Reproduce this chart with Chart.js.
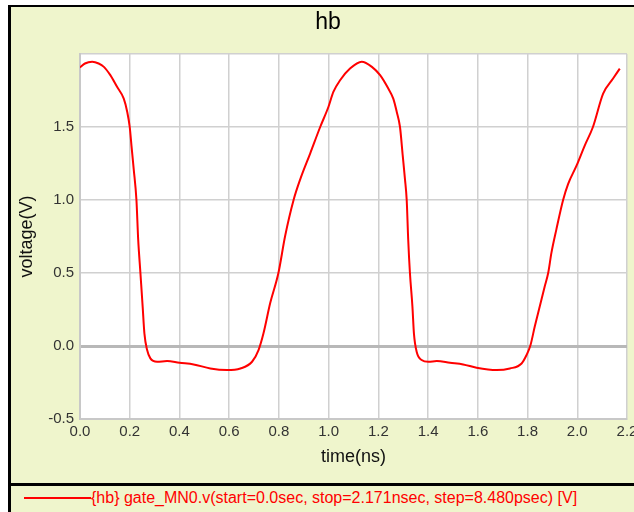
<!DOCTYPE html>
<html>
<head>
<meta charset="utf-8">
<script src="https://cdn.jsdelivr.net/npm/chart.js@4.4.1/dist/chart.umd.min.js"></script>
<style>
  html, body { margin: 0; padding: 0; background: #ffffff; }
  body { width: 634px; height: 512px; position: relative; overflow: hidden; font-family: "Liberation Sans", Arial, sans-serif; }
  #frame { position: absolute; left: 8px; top: 5px; width: 626px; height: 507px; background: #eff5cc; border-left: 3px solid #000; border-top: 2px solid #000; box-sizing: border-box; }
  #sep { position: absolute; left: 8px; top: 483px; width: 626px; height: 3px; background: #000; }
  #wrap { position: absolute; left: 0; top: 0; width: 634px; height: 483px; }
  #legend { position: absolute; left: 24px; top: 488px; height: 20px; display: flex; align-items: center; color: #ff0000; font-size: 16px; white-space: nowrap; }
  #legend .ln { width: 67px; height: 2px; background: #ff0000; }
</style>
</head>
<body>
<div id="frame"></div>
<div id="sep"></div>
<div id="wrap"><canvas id="c" width="634" height="483"></canvas></div>
<div id="legend"><span class="ln"></span><span id="legtext"></span></div>
<script>
const chartTitle = "hb";
const xAxisTitle = "time(ns)";
const yAxisTitle = "voltage(V)";
const legendLabel = "{hb} gate_MN0.v(start=0.0sec, stop=2.171nsec, step=8.480psec) [V]";

const timeNs = [0, 0.02, 0.049, 0.075, 0.096, 0.122, 0.149, 0.176, 0.19, 0.2,
  0.207, 0.216, 0.227, 0.234, 0.243, 0.252, 0.259, 0.27, 0.283, 0.31,
  0.35, 0.4, 0.457, 0.524, 0.591, 0.645, 0.692, 0.718, 0.738, 0.765,
  0.798, 0.825, 0.859, 0.886, 0.926, 0.966, 0.999, 1.019, 1.046, 1.086,
  1.133, 1.174, 1.207, 1.24, 1.26, 1.274, 1.287, 1.298, 1.307, 1.314,
  1.32, 1.327, 1.337, 1.343, 1.354, 1.374, 1.401, 1.435, 1.488, 1.541,
  1.595, 1.676, 1.729, 1.776, 1.796, 1.812, 1.829, 1.849, 1.869, 1.883,
  1.896, 1.916, 1.943, 1.963, 1.997, 2.03, 2.063, 2.104, 2.144, 2.171];
const voltage = [1.908, 1.935, 1.947, 1.935, 1.912, 1.855, 1.775, 1.694, 1.603, 1.5,
  1.373, 1.212, 1.0, 0.73, 0.5, 0.27, 0.087, -0.028, -0.085, -0.108,
  -0.103, -0.115, -0.126, -0.154, -0.165, -0.154, -0.108, -0.028, 0.087, 0.294,
  0.5, 0.753, 1.0, 1.143, 1.32, 1.5, 1.637, 1.74, 1.82, 1.9,
  1.947, 1.912, 1.855, 1.763, 1.694, 1.603, 1.5, 1.304, 1.143, 1.0,
  0.73, 0.5, 0.27, 0.087, -0.039, -0.096, -0.108, -0.103, -0.115, -0.126,
  -0.149, -0.165, -0.154, -0.12, -0.062, 0.007, 0.133, 0.27, 0.408, 0.5,
  0.638, 0.799, 1.0, 1.109, 1.235, 1.373, 1.5, 1.729, 1.832, 1.90];

const xMin = 0, xMax = 2.2, xStep = 0.2;
const yMin = -0.5, yMax = 2.0, yStep = 0.5;

document.getElementById('legtext').textContent = legendLabel;

const points = timeNs.map((t, i) => ({ x: t, y: voltage[i] }));

const plotBg = {
  id: 'plotBg',
  beforeDraw(chart) {
    const { ctx, chartArea: a } = chart;
    ctx.save();
    ctx.fillStyle = '#ffffff';
    ctx.fillRect(a.left, a.top, a.right - a.left, a.bottom - a.top);
    ctx.restore();
  }
};

const FAM = '"Liberation Sans", Arial, sans-serif';
const tickFont = { family: FAM, size: 15 };

new Chart(document.getElementById('c'), {
  type: 'line',
  data: {
    datasets: [{
      label: legendLabel,
      data: points,
      borderColor: '#ff0000',
      borderWidth: 2,
      pointRadius: 0,
      cubicInterpolationMode: 'monotone',
      fill: false
    }]
  },
  options: {
    responsive: false,
    animation: false,
    layout: { padding: { left: 29, right: 7, top: 0, bottom: 0 } },
    plugins: {
      legend: { display: false },
      tooltip: { enabled: false },
      title: {
        display: true,
        text: chartTitle,
        color: '#000000',
        font: { family: FAM, size: 23, weight: 'normal', lineHeight: 1.2 },
        padding: { top: 9, bottom: 17.4 }
      }
    },
    scales: {
      x: {
        type: 'linear',
        min: xMin, max: xMax,
        afterFit(s) { s.height = 64; s.paddingLeft = 0; s.paddingRight = 0; },
        ticks: {
          stepSize: xStep,
          color: '#333333',
          font: tickFont,
          padding: 4,
          maxRotation: 0,
          autoSkip: false,
          callback: v => Number(v).toFixed(1)
        },
        grid: { color: '#d0d0d0', lineWidth: 1.5, drawTicks: false },
        border: { color: '#c8c8c8', width: 2 },
        title: { display: true, text: xAxisTitle, color: '#111111',
          font: { family: FAM, size: 18, lineHeight: 1.2 },
          padding: { top: 0, bottom: 15 } }
      },
      y: {
        type: 'linear',
        min: yMin, max: yMax,
        afterFit(s) { s.width = 51; s.paddingTop = 0; s.paddingBottom = 0; },
        ticks: {
          stepSize: yStep,
          color: '#333333',
          font: tickFont,
          padding: 6,
          callback: v => (Math.abs(v - yMax) < 1e-9 ? '' : Number(v).toFixed(1))
        },
        grid: {
          color: ctx => (ctx.tick && Math.abs(ctx.tick.value) < 1e-9 ? '#b8b8b8' : '#d0d0d0'),
          lineWidth: ctx => (ctx.tick && Math.abs(ctx.tick.value) < 1e-9 ? 3 : 1.5),
          drawTicks: false
        },
        border: { color: '#c8c8c8', width: 2 },
        title: { display: true, text: yAxisTitle, color: '#111111',
          font: { family: FAM, size: 18, lineHeight: 1.2 },
          padding: { top: -12.8, bottom: 0 } }
      }
    }
  },
  plugins: [plotBg]
});
</script>
</body>
</html>
